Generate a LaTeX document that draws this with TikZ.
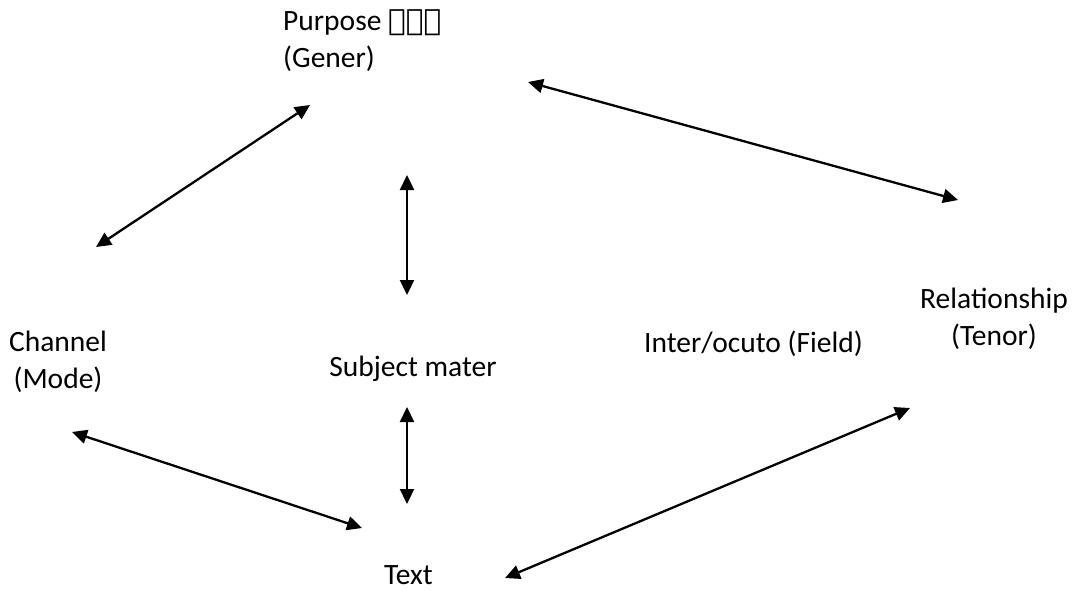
\documentclass[tikz,border=0pt]{standalone}
\usepackage{fontspec}
\setmainfont{Carlito}
\newfontfamily\ethfont{DejaVu Sans}
\usetikzlibrary{arrows.meta}
\begin{document}
\begin{tikzpicture}[x=1pt,y=-1pt,
  lbl/.style={inner sep=0pt,font=\fontsize{29.5}{37}\selectfont},
  dbl/.style={line width=2.3pt,{Triangle[length=15pt,width=14pt]}-{Triangle[length=15pt,width=14pt]}}]
\useasboundingbox (0,0) rectangle (1085,590);
\node[lbl,align=left,anchor=west] (purpose) at (283,41) {Purpose {\ethfont\bfseries ዓላማ}\\(Gener)};
\node[lbl,align=center] (channel) at (58,362) {Channel\\(Mode)};
\node[lbl,align=center] (relation) at (994,319) {Relationship\\(Tenor)};
\node[lbl,anchor=base] (subject) at (413,376) {Subject mater};
\node[lbl,anchor=base] (field) at (753.5,352) {Inter/ocuto (Field)};
\node[lbl,anchor=base] (text) at (408.5,584) {Text};
\coordinate (a1) at (310,105); \coordinate (a2) at (96,247);
\coordinate (b1) at (407,175); \coordinate (b2) at (407,295);
\coordinate (c1) at (528,82);  \coordinate (c2) at (958,200);
\coordinate (d1) at (407,407); \coordinate (d2) at (407,504);
\coordinate (e1) at (72,432);  \coordinate (e2) at (362,528);
\coordinate (f1) at (505,578); \coordinate (f2) at (910,408);
\draw[dbl] (a1) -- (a2);
\draw[dbl] (b1) -- (b2);
\draw[dbl] (c1) -- (c2);
\draw[dbl] (d1) -- (d2);
\draw[dbl] (e1) -- (e2);
\draw[dbl] (f1) -- (f2);
\end{tikzpicture}
\end{document}
